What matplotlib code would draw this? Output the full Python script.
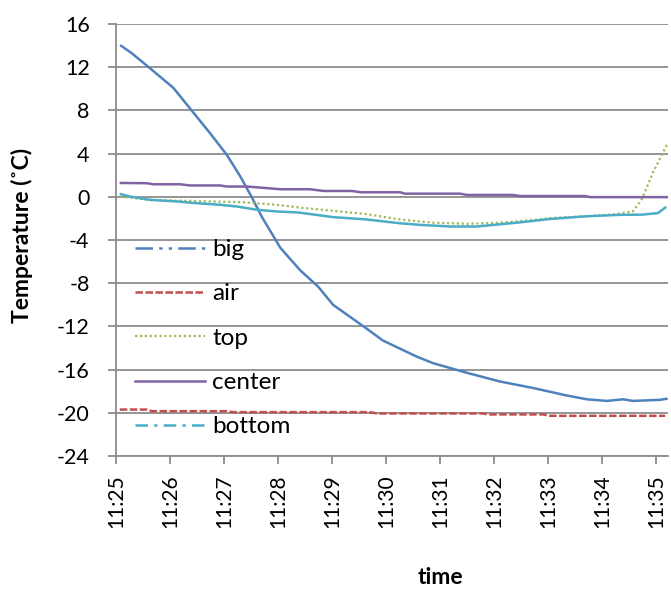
import matplotlib
matplotlib.use("Agg")
import matplotlib.pyplot as plt
from matplotlib.lines import Line2D
from matplotlib.transforms import ScaledTranslation

plt.rcParams['font.family'] = ['Lato', 'DejaVu Sans']

# minutes after 11:25
tick_labels = ["11:25", "11:26", "11:27", "11:28", "11:29", "11:30",
               "11:31", "11:32", "11:33", "11:34", "11:35"]
y_ticks = [16, 12, 8, 4, 0, -4, -8, -12, -16, -20, -24]

big_t = [0.09, 0.29, 0.63, 1.06, 1.40, 1.74, 2.05, 2.30, 2.51, 2.70, 2.85, 3.04, 3.41,
         3.74, 4.02, 4.64, 4.94, 5.57, 5.87, 6.50, 7.11, 7.72, 8.35, 8.72, 9.09, 9.39,
         9.57, 10.07, 10.20]
big_v = [14.0, 13.3, 11.9, 10.1, 8.0, 5.9, 3.9, 1.9, 0.0, -1.85, -3.1, -4.7, -6.8,
         -8.3, -10.0, -12.2, -13.3, -14.8, -15.4, -16.3, -17.1, -17.7, -18.4, -18.75,
         -18.9, -18.75, -18.9, -18.8, -18.7]

air_t = [0.07, 0.57, 0.66, 2.05, 2.17, 4.70, 4.83, 6.80, 6.89, 7.91, 8.04, 10.17]
air_v = [-19.7, -19.7, -19.85, -19.85, -19.94, -19.94, -20.06, -20.06, -20.15,
         -20.15, -20.28, -20.28]

top_t = [0.09, 0.63, 1.12, 1.74, 2.35, 2.98, 3.41, 4.02, 4.64, 5.26, 5.87, 6.50,
         7.11, 7.61, 8.09, 8.72, 9.27, 9.57, 9.73, 9.94, 10.20]
top_v = [0.03, -0.3, -0.35, -0.43, -0.5, -0.74, -1.0, -1.3, -1.6, -2.1, -2.4, -2.5,
         -2.4, -2.2, -1.95, -1.8, -1.6, -1.35, -0.3, 2.2, 4.8]

center_t = [0.09, 0.57, 0.69, 1.19, 1.37, 1.93, 2.05, 2.42, 2.73, 3.04, 3.59, 3.85,
            4.37, 4.53, 5.26, 5.35, 6.37, 6.50, 7.35, 7.48, 8.00, 8.69, 8.78, 10.22]
center_v = [1.28, 1.26, 1.16, 1.16, 1.05, 1.05, 0.95, 0.95, 0.83, 0.7, 0.7, 0.54,
            0.54, 0.42, 0.42, 0.29, 0.29, 0.17, 0.17, 0.07, 0.07, 0.07, -0.03, -0.03]

bottom_t = [0.09, 0.26, 0.63, 1.12, 1.49, 1.93, 2.24, 2.61, 2.98, 3.37, 4.02, 4.64,
            5.26, 5.63, 6.19, 6.68, 7.11, 7.61, 8.04, 8.72, 9.33, 9.76, 10.04, 10.17]
bottom_v = [0.24, 0.03, -0.28, -0.43, -0.59, -0.74, -0.9, -1.2, -1.36, -1.45, -1.88,
            -2.1, -2.45, -2.6, -2.75, -2.75, -2.55, -2.3, -2.05, -1.8, -1.67, -1.65,
            -1.5, -1.0]

c_big = "#4F81BD"
c_air = "#C0504D"
c_top = "#9BBB59"
c_center = "#8064A2"
c_bottom = "#4BACC6"
grid_c = "#8C8C8C"

W, H = 671, 590
fig = plt.figure(figsize=(W / 100, H / 100), dpi=100)
ax = fig.add_axes([116 / W, 1 - 456 / H, (668 - 116) / W, (456 - 24) / H])

lw = 1.8
ax.plot(big_t, big_v, color=c_big, lw=lw, solid_capstyle='round', zorder=3)
ax.plot(air_t, air_v, color=c_air, lw=lw, linestyle=(0, (3, 1)), zorder=3)
ax.plot(top_t, top_v, color=c_top, lw=1.6, linestyle=(0, (1, 1.2)), zorder=3)
ax.plot(center_t, center_v, color=c_center, lw=lw, zorder=3)
ax.plot(bottom_t, bottom_v, color=c_bottom, lw=lw, zorder=3)

ax.set_xlim(0, (668 - 116) / 54)
ax.set_ylim(-24, 16)
ax.set_yticks(y_ticks)
ax.set_yticklabels([str(v) for v in y_ticks])
ax.set_xticks(range(len(tick_labels)))
ax.set_xticklabels(tick_labels, rotation=90, va='top', ha='center')
for lab in ax.get_xticklabels():
    lab.set_transform(lab.get_transform() + ScaledTranslation(5 / 100, 0, fig.dpi_scale_trans))

ax.yaxis.grid(True, color=grid_c, lw=1.3, zorder=0)
ax.set_axisbelow(True)
for s in ['top', 'right']:
    ax.spines[s].set_visible(False)
for s in ['left', 'bottom']:
    ax.spines[s].set_color(grid_c)
    ax.spines[s].set_linewidth(1.3)
ax.tick_params(axis='both', direction='out', length=6, width=1.3, color=grid_c,
               labelsize=15.5, labelcolor='black')
ax.tick_params(axis='y', pad=13)
ax.tick_params(axis='x', pad=7, labelsize=15)

ax.set_ylabel("Temperature (˚C)", fontsize=16.5, fontweight='bold')
ax.yaxis.set_label_coords((33 - 116) / 552, 0.51)
fig.text(440 / W, 1 - 578 / H, "time", fontsize=16.5, fontweight='bold',
         ha='center', va='center')

handles = [
    Line2D([], [], color=c_big, lw=lw, linestyle=(0, (7, 2.5, 1.3, 2.5, 1.3, 2.5))),
    Line2D([], [], color=c_air, lw=lw, linestyle=(0, (3, 1))),
    Line2D([], [], color=c_top, lw=1.6, linestyle=(0, (1, 1.2))),
    Line2D([], [], color=c_center, lw=lw),
    Line2D([], [], color=c_bottom, lw=lw, linestyle=(0, (5, 2.5, 1.3, 2.5))),
]
labels = ["big", "air", "top", "center", "bottom"]
leg = ax.legend(handles, labels, loc='upper left',
                bbox_to_anchor=(135 / W, 1 - 239 / H), bbox_transform=fig.transFigure,
                frameon=False, fontsize=17.5, handlelength=2.88, handletextpad=0.29,
                labelspacing=0.96, borderpad=0, borderaxespad=0)

fig.savefig("out.png", dpi=100)
